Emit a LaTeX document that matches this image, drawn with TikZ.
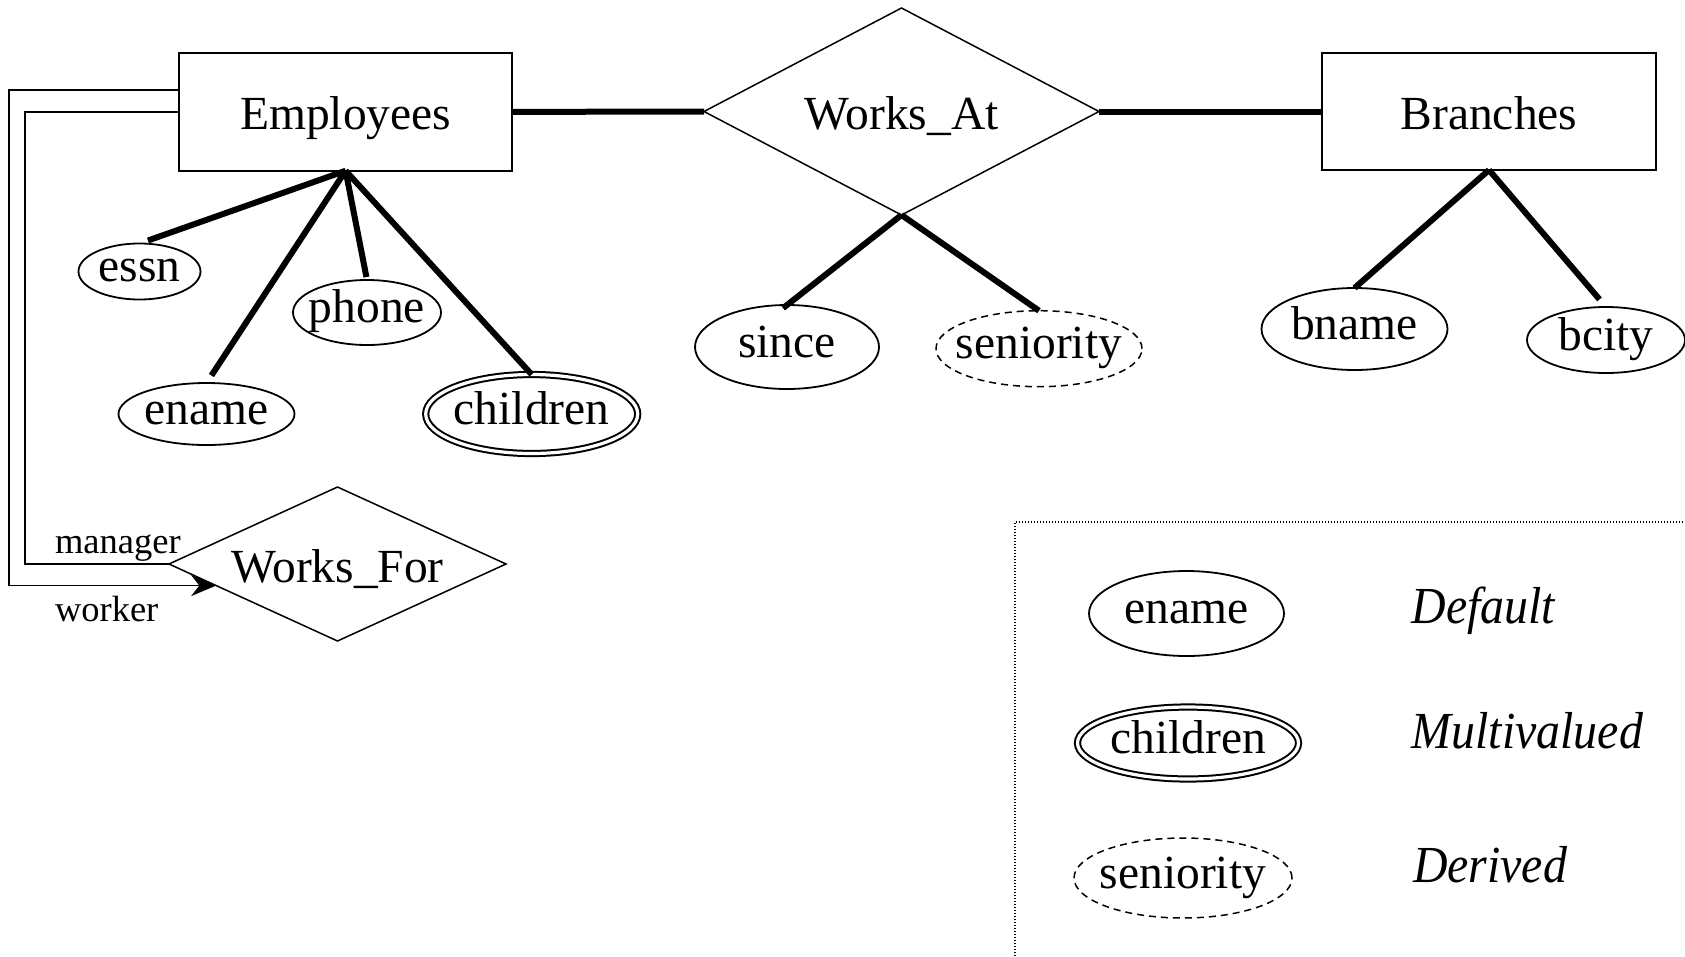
\documentclass[tikz,border=0pt]{standalone}
\usepackage{fontspec}
\setmainfont{Liberation Serif}
\newfontfamily\legfont[FakeStretch=0.92]{Liberation Serif}
\usetikzlibrary{shapes.geometric,arrows.meta,calc}
\newcommand{\zw}[1]{\makebox[0pt]{#1}}
\begin{document}
\begin{tikzpicture}[x=1pt,y=-1pt,
  every node/.style={inner sep=0pt, outer sep=0pt},
  mainfont/.style={font=\fontsize{47.5}{52}\selectfont},
  entity/.style={draw, line width=2pt, rectangle, mainfont, text height=40pt, text depth=4pt},
  rel/.style={draw, line width=1.5pt, diamond, mainfont, text height=40pt, text depth=4pt},
  attr/.style={draw, line width=1.8pt, ellipse, mainfont, text height=26pt, text depth=6pt},
  multi/.style={attr, double, double distance=3.2pt, line width=2pt},
  derived/.style={attr, line width=1.5pt, dash pattern=on 7pt off 5pt},
  link/.style={line width=6pt},
  role/.style={line width=1.8pt},
  rolelbl/.style={font=\fontsize{36.5}{40}\selectfont, anchor=base west},
  legtxt/.style={font=\legfont\itshape\fontsize{52}{58}\selectfont, anchor=base west},
  legframe/.style={line width=1.2pt, dash pattern=on 1.2pt off 1.8pt}
]
\useasboundingbox (0,0) rectangle (1685,956);

% entities and relationships
\node[entity, minimum width=332.7pt, minimum height=117.7pt] (emp) at (345.6,111.9) {Employees};
\node[entity, minimum width=334pt, minimum height=117pt] (br) at (1489,111.5) {Branches};
\node[rel, minimum width=395pt, minimum height=207pt] (wa) at (901.5,111.5) {\zw{Works\_At}};
\node[rel, minimum width=337pt, minimum height=154pt] (wf) at (337.5,564) {\zw{Works\_For}};

% attributes
\node[attr, minimum width=122pt, minimum height=56pt] (essn) at (139.5,271.5) {\zw{essn}};
\node[attr, minimum width=148pt, minimum height=65pt] (phone) at (367,312.5) {\zw{phone}};
\node[attr, minimum width=176pt, minimum height=62pt] (ename) at (206.5,414) {\zw{ename}};
\node[multi, minimum width=212pt, minimum height=79pt] (children) at (531.7,414) {\zw{children}};
\node[attr, minimum width=184pt, minimum height=84pt] (since) at (787,347) {\zw{since}};
\node[derived, minimum width=206pt, minimum height=76pt] (seniority) at (1039,348.7) {\zw{seniority}};
\node[attr, minimum width=186pt, minimum height=82pt] (bname) at (1354.5,329) {\zw{bname}};
\node[attr, minimum width=158pt, minimum height=66pt] (bcity) at (1606,340) {\zw{bcity}};

% connectors
\draw[link] (emp.east) -- (wa.west);
\draw[link] (wa.east) -- (br.west);
\draw[link, shorten >=9pt] (emp.south) -- (essn.north);
\draw[link, shorten >=9pt] (emp.south) -- (ename.north);
\draw[link, shorten >=3pt] (emp.south) -- (phone.north);
\draw[link] (emp.south) -- (children.north);
\draw[link, shorten >=-5pt] (wa.south) -- (since.north);
\draw[link] (wa.south) -- (seniority.north);
\draw[link] (br.south) -- (bname.north);
\draw[link, shorten >=10pt] (br.south) -- (bcity.north);

% roles
\coordinate (mx) at (25,300);
\coordinate (wx) at (9,300);
\coordinate (wtip) at ($(wf.west)!0.28!(wf.south)$);
\draw[role] (emp.west) -| (mx) |- (wf.west);
\draw[role, -{Stealth[length=25pt,width=21pt]}] ([yshift=22pt]emp.west) -| (wx) |- (wtip);
\node[rolelbl] (mgr) at (55,553.3) {manager};
\node[rolelbl] (wkr) at (55,621.7) {worker};

% legend
\draw[legframe] (1015,956) -- (1015,522) -- (1685,522);
\node[attr, minimum width=195pt, minimum height=85pt] (lg1) at (1186.5,613.5) {\zw{ename}};
\node[multi, minimum width=221pt, minimum height=72pt] (lg2) at (1188,743) {\zw{children}};
\node[derived, minimum width=218pt, minimum height=80pt] (lg3) at (1183,878) {\zw{seniority}};
\node[legtxt] (d1) at (1411.7,623.3) {Default};
\node[legtxt] (d2) at (1411.7,748.3) {Multivalued};
\node[legtxt] (d3) at (1413,882) {Derived};
\end{tikzpicture}
\end{document}
